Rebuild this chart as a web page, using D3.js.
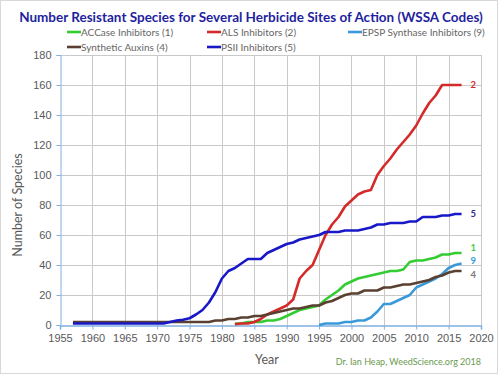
<!DOCTYPE html>
<html lang="en">
<head>
<meta charset="utf-8">
<title>Herbicide resistant species by site of action</title>
<script src="https://d3js.org/d3.v7.min.js"></script>
<style>
  body { margin: 0; background: #fff; }
  svg { font-family: Lato, "Open Sans", sans-serif; }
  .grid line { stroke: #c9c9c9; stroke-width: 1; }
  .axis path, .axis line { stroke: #7fb0e0; }
  .axis text { fill: #595959; font-size: 11px; }
  .series { fill: none; stroke-width: 2.6; stroke-linejoin: round; }
  .legend text { fill: #666; font-size: 10px; }
</style>
</head>
<body>
<script>
// ---- data ----
var yearTicks = [1955, 1960, 1965, 1970, 1975, 1980, 1985, 1990, 1995, 2000, 2005, 2010, 2015, 2020];
var valueTicks = [0, 20, 40, 60, 80, 100, 120, 140, 160, 180];

// each series: first year + yearly values
var accaseStart = 1982;
var accase = [1, 1, 2, 2, 2, 3, 3, 4, 6, 8, 10, 11, 12, 13, 17, 20, 23, 27, 29, 31,
              32, 33, 34, 35, 36, 36, 37, 42, 43, 43, 44, 45, 47, 47, 48, 48];

var alsStart = 1982;
var als = [0.5, 1, 1, 2, 4, 7, 9, 11, 13, 17, 31, 36, 40, 50, 60, 67, 72, 79, 83, 87,
           89, 90, 100, 106, 111, 117, 122, 127, 133, 141, 148, 153, 160, 160, 160, 160];

var epspStart = 1995;
var epsp = [0, 1, 1, 1, 2, 2, 3, 3, 5, 9, 14, 14, 16, 18, 20, 25, 27, 29, 31, 34, 38, 40, 41];

var auxinsStart = 1957;
var auxins = [2, 2, 2, 2, 2, 2, 2, 2, 2, 2, 2, 2, 2, 2, 2, 2, 2, 2, 2, 2, 2, 2,
              3, 3, 4, 4, 5, 5, 6, 6, 7, 8, 9, 10, 11, 11, 12, 13, 13, 15, 16, 18, 20,
              21, 21, 23, 23, 23, 25, 25, 26, 27, 27, 28, 29, 30, 32, 33, 35, 36, 36];

var psiiStart = 1957;
var psii = [1, 1, 1, 1, 1, 1, 1, 1, 1, 1, 1, 1, 1, 1, 1,
            2, 3, 3.5, 4.5, 7, 10, 15, 22, 31, 36, 38, 41, 44, 44, 44, 48, 50, 52, 54, 55,
            57, 58, 59, 60, 62, 62, 62, 63, 63, 63, 64, 65, 67, 67, 68, 68, 68, 69, 69,
            72, 72, 72, 73, 73, 74, 74];

var seriesNames = ["ACCase Inhibitors (1)", "ALS Inhibitors (2)", "EPSP Synthase Inhibitors (9)",
                   "Synthetic Auxins (4)", "PSII Inhibitors (5)"];
var endCodes = ["1", "2", "9", "4", "5"];

// ---- layout ----
var w = 500, h = 375;
var plotLeft = 60, plotRight = 481, plotTop = 55, plotBottom = 325;

var series = [
  { name: seriesNames[0], code: endCodes[0], start: accaseStart, values: accase, color: "#33cc33", codeColor: "#44cc44", dy: -5, lx: 67, ly: 32 },
  { name: seriesNames[1], code: endCodes[1], start: alsStart, values: als, color: "#d42a2a", codeColor: "#d42a2a", dy: 0, lx: 207, ly: 32 },
  { name: seriesNames[2], code: endCodes[2], start: epspStart, values: epsp, color: "#3a9ad9", codeColor: "#3a9ad9", dy: -3, lx: 348, ly: 32 },
  { name: seriesNames[3], code: endCodes[3], start: auxinsStart, values: auxins, color: "#5a4030", codeColor: "#7a7a7a", dy: 4, lx: 67, ly: 47 },
  { name: seriesNames[4], code: endCodes[4], start: psiiStart, values: psii, color: "#1818c8", codeColor: "#2a2a90", dy: 0, lx: 207, ly: 47 }
];

var svg = d3.select("body").append("svg")
    .attr("width", w)
    .attr("height", h);

// frame around the picture
svg.append("rect")
    .attr("x", 0.5).attr("y", 0.5)
    .attr("width", w - 3).attr("height", h - 2)
    .attr("fill", "none").attr("stroke", "#d8d8d8");

var xScale = d3.scaleLinear().domain([1955, 2020]).range([plotLeft, plotRight]);
var yScale = d3.scaleLinear().domain([0, 180]).range([plotBottom, plotTop]);

// gridlines
var grid = svg.append("g").attr("class", "grid");
grid.selectAll(".v").data(yearTicks.slice(1)).enter().append("line")
    .attr("x1", function(d) { return Math.round(xScale(d)) + 0.5; })
    .attr("x2", function(d) { return Math.round(xScale(d)) + 0.5; })
    .attr("y1", plotTop).attr("y2", plotBottom);
grid.selectAll(".h").data(valueTicks.slice(1)).enter().append("line")
    .attr("x1", plotLeft).attr("x2", plotRight)
    .attr("y1", function(d) { return Math.round(yScale(d)) + 0.5; })
    .attr("y2", function(d) { return Math.round(yScale(d)) + 0.5; });

// axes
var xAxis = d3.axisBottom(xScale).tickValues(yearTicks).tickFormat(d3.format("d")).tickSize(4).tickPadding(5);
var yAxis = d3.axisLeft(yScale).tickValues(valueTicks).tickSize(4).tickPadding(5);

svg.append("g").attr("class", "axis")
    .attr("transform", "translate(0," + (plotBottom + 0.5) + ")")
    .call(xAxis)
    .call(function(g) { g.select(".domain").attr("stroke-width", 1.5); });

svg.append("g").attr("class", "axis")
    .attr("transform", "translate(" + (plotLeft + 0.5) + ",0)")
    .call(yAxis);

// lines
var line = d3.line()
    .x(function(d) { return xScale(d.year); })
    .y(function(d) { return yScale(d.value); });

series.forEach(function(s) {
  var pts = s.values.map(function(v, i) { return { year: s.start + i, value: v }; });
  s.points = pts;
  svg.append("path")
      .datum(pts)
      .attr("class", "series")
      .attr("stroke", s.color)
      .attr("d", line);
});

// codes at the end of each line
series.forEach(function(s) {
  var last = s.points[s.points.length - 1];
  svg.append("text")
      .attr("x", xScale(last.year) + 9)
      .attr("y", yScale(last.value) + s.dy)
      .attr("dy", "0.35em")
      .attr("fill", s.codeColor)
      .attr("font-size", "9.5px")
      .attr("font-weight", "bold")
      .text(s.code);
});

// legend
var legend = svg.append("g").attr("class", "legend");
series.forEach(function(s) {
  legend.append("line")
      .attr("x1", s.lx).attr("x2", s.lx + 14)
      .attr("y1", s.ly).attr("y2", s.ly)
      .attr("stroke", s.color).attr("stroke-width", 2.6);
  legend.append("text")
      .attr("x", s.lx + 14)
      .attr("y", s.ly)
      .attr("dy", "0.35em")
      .text(s.name);
});

// title and labels
svg.append("text")
    .attr("x", 251).attr("y", 22)
    .attr("text-anchor", "middle")
    .attr("font-size", "13.5px")
    .attr("font-weight", "bold")
    .attr("fill", "#1f1f9e")
    .text("Number Resistant Species for Several Herbicide Sites of Action (WSSA Codes)");

svg.append("text")
    .attr("transform", "translate(22,205) rotate(-90)")
    .attr("text-anchor", "middle")
    .attr("font-size", "12.5px")
    .attr("fill", "#595959")
    .text("Number of Species");

svg.append("text")
    .attr("x", 267).attr("y", 364)
    .attr("text-anchor", "middle")
    .attr("font-size", "12.5px")
    .attr("fill", "#595959")
    .text("Year");

svg.append("text")
    .attr("x", 481).attr("y", 365)
    .attr("text-anchor", "end")
    .attr("font-size", "9px")
    .attr("fill", "#6a9a50")
    .text("Dr. Ian Heap, WeedScience.org  2018");
</script>
</body>
</html>
